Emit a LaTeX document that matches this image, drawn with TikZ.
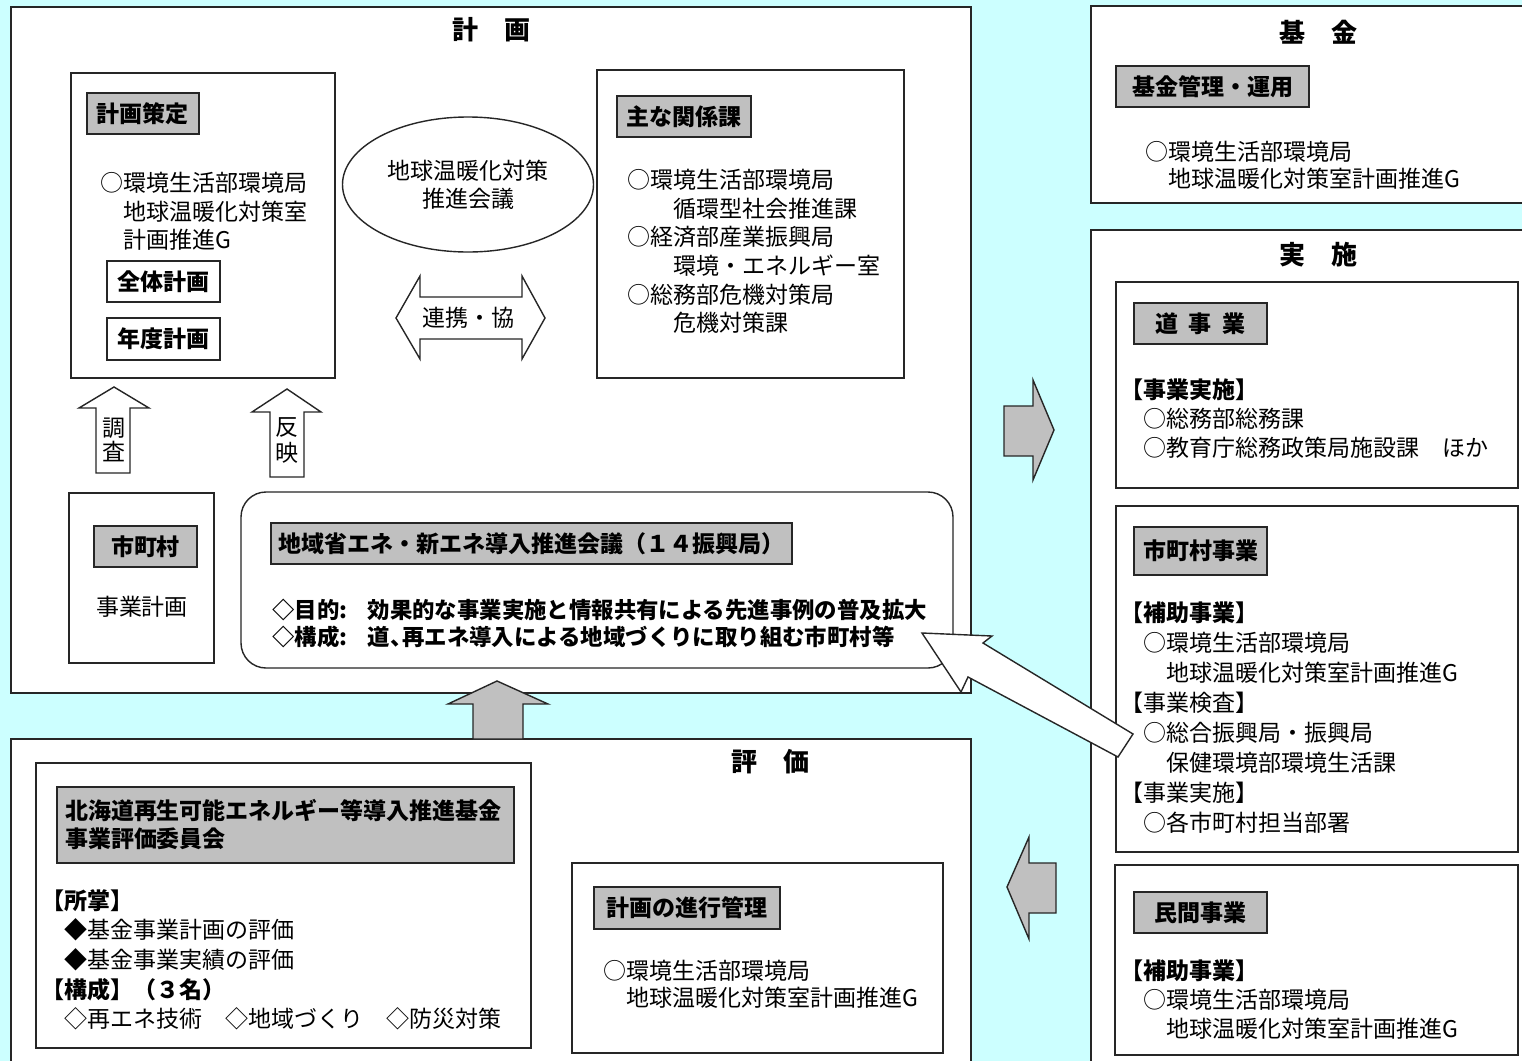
\documentclass[tikz,border=0pt]{standalone}
\usepackage{fontspec}
\setmainfont{Noto Sans CJK JP}
\usepackage{tikz}
\usepackage{xcolor}
\usetikzlibrary{shapes.geometric}
\definecolor{bgcyan}{RGB}{204,255,255}
\definecolor{labelgray}{RGB}{192,192,192}

\begin{document}
\begin{tikzpicture}[x=0.5pt, y=-0.5pt,
        frame/.style={draw=black!85, fill=white, line width=0.7pt, inner sep=0pt},
        graybox/.style={draw=black!85, fill=labelgray, line width=0.9pt, inner sep=0pt, minimum height=20.5pt, font=\fontsize{11.5}{14}\selectfont\bfseries},
        whitebox/.style={graybox, fill=white},
        title/.style={font=\fontsize{13}{15}\selectfont\bfseries},
        body/.style={align=left, inner sep=0pt, anchor=north west, font=\fontsize{11.5}{14.5}\selectfont},
        blockarrow/.style={draw=black!85, line width=0.7pt, line join=miter, fill=labelgray}
        ]
            \fill[bgcyan] (0,0) rectangle (1522,1061);
            \useasboundingbox (0,0) rectangle (1522,1061);

            % big frames
            \node[frame, minimum width=480pt, minimum height=343pt] (plan) at (491,350) {};
            \node[title] (planttl) at (491,30) {計　画};
            \node[frame, minimum width=227pt, minimum height=98.5pt] (fund) at (1318,104.5) {};
            \node[title] (fundttl) at (1318,32) {基　金};
            \node[frame, minimum width=227pt, minimum height=425pt] (impl) at (1318,655) {};
            \node[title] (implttl) at (1318,255) {実　施};
            \node[frame, minimum width=480pt, minimum height=170.5pt] (eval) at (491,909.5) {};
            \node[title] (evalttl) at (770,762) {評　価};

            % plan
            \node[frame, minimum width=132pt, minimum height=152.5pt] (draft) at (203,225.5) {};
            \node[graybox, minimum width=56pt] (draftlbl) at (143,113.5) {計画策定};
            \node[body, font=\fontsize{11.5}{14.25}\selectfont] (drafttxt) at (100,172) {○環境生活部環境局\\　地球温暖化対策室\\　計画推進G};
            \node[whitebox, minimum width=56.5pt] (whole) at (163.5,281.5) {全体計画};
            \node[whitebox, minimum width=56.5pt, minimum height=21pt] (annual) at (163.5,339) {年度計画};

            \node[ellipse, draw=black!85, fill=white, line width=0.7pt, minimum width=125.5pt, minimum height=67.5pt, align=center, font=\fontsize{11.5}{14}\selectfont] (meeting) at (468,184.5) {地球温暖化対策\\推進会議};
            \draw[blockarrow, fill=white] (396,318) -- (420,276) -- (420,297) -- (522,297) -- (522,276) -- (545,318) -- (522,359) -- (522,339) -- (420,339) -- (420,359) -- cycle;
            \node[font=\fontsize{11.5}{14}\selectfont] (link) at (468,318) {連携・協};

            \node[frame, minimum width=153.5pt, minimum height=154pt] (rel) at (750.5,224) {};
            \node[graybox, minimum width=67pt] (rellbl) at (684,116.5) {主な関係課};
            \node[body, font=\fontsize{11.5}{14.3}\selectfont] (reltxt) at (627,169) {○環境生活部環境局\\　　循環型社会推進課\\○経済部産業振興局\\　　環境・エネルギー室\\○総務部危機対策局\\　　危機対策課};

            \draw[blockarrow, fill=white] (114,387) -- (149,408) -- (130,408) -- (130,473) -- (96,473) -- (96,408) -- (79,408) -- cycle;
            \node[align=center, inner sep=0pt, font=\fontsize{11.5}{12}\selectfont] (survey) at (114,440) {調\\査};
            \draw[blockarrow, fill=white] (287,389) -- (321,412) -- (304,412) -- (304,477) -- (270,477) -- (270,412) -- (252,412) -- cycle;
            \node[align=center, inner sep=0pt, font=\fontsize{11.5}{13}\selectfont] (reflect) at (287,441) {反\\映};

            \node[frame, minimum width=72.5pt, minimum height=85pt] (muni) at (141.5,578) {};
            \node[graybox, minimum width=51.5pt] (munilbl) at (145.5,546.5) {市町村};
            \node[font=\fontsize{11.5}{14}\selectfont] (munitxt) at (142,607) {事業計画};

            \node[frame, rounded corners=12.5pt, minimum width=356pt, minimum height=88pt] (council) at (597,580) {};
            \node[graybox, minimum width=260.5pt] (councillbl) at (531.5,543.5) {地域省エネ・新エネ導入推進会議（１４振興局）};
            \node[body, font=\fontsize{11.2}{13.5}\selectfont\bfseries] (counciltxt) at (272,599) {◇目的:\hspace{0.9em}効果的な事業実施と情報共有による先進事例の普及拡大\\◇構成:\hspace{0.9em}道、\hspace{-0.45em}再エネ導入による地域づくりに取り組む市町村等};

            % arrows between frames
            \draw[blockarrow] (497,681) -- (548,704) -- (523,704) -- (523,739) -- (473,739) -- (473,704) -- (448,704) -- cycle;
            \draw[blockarrow] (1004,406) -- (1033,406) -- (1033,380) -- (1054,430) -- (1033,480) -- (1033,456) -- (1004,456) -- cycle;
            \draw[blockarrow] (1007,887) -- (1029,837) -- (1029,863) -- (1056,863) -- (1056,913) -- (1029,913) -- (1029,939) -- cycle;

            % fund
            \node[graybox, minimum width=96.5pt] (fundlbl) at (1212.5,86.5) {基金管理・運用};
            \node[body, font=\fontsize{11.5}{13.5}\selectfont] (fundtxt) at (1145,141) {○環境生活部環境局\\　地球温暖化対策室計画推進G};

            % implementation
            \node[frame, minimum width=201pt, minimum height=103pt] (road) at (1317,385) {};
            \node[graybox, minimum width=66.5pt] (roadlbl) at (1200.5,323.5) {道\hspace{0.45em}事\hspace{0.45em}業};
            \node[body] (roadtxt) at (1120,378) {\textbf{【事業実施】}\\　○総務部総務課\\　○教育庁総務政策局施設課　ほか};

            \node[frame, minimum width=201pt, minimum height=173pt] (city) at (1317,679) {};
            \node[graybox, minimum width=66.5pt, minimum height=24pt] (citylbl) at (1200.5,551) {市町村事業};
            \node[body, font=\fontsize{11.5}{15}\selectfont] (citytxt) at (1120,601) {\textbf{【補助事業】}\\　○環境生活部環境局\\　　地球温暖化対策室計画推進G\\【事業検査】\\　○総合振興局・振興局\\　　保健環境部環境生活課\\【事業実施】\\　○各市町村担当部署};

            \node[frame, minimum width=201.5pt, minimum height=95pt] (priv) at (1316.5,960) {};
            \node[graybox, minimum width=66.5pt] (privlbl) at (1200.5,912.5) {民間事業};
            \node[body] (privtxt) at (1120,959) {\textbf{【補助事業】}\\　○環境生活部環境局\\　　地球温暖化対策室計画推進G};

            % evaluation
            \node[frame, minimum width=247.5pt, minimum height=142.5pt] (cmte) at (283.5,905.5) {};
            \node[graybox, text width=220.5pt, inner xsep=4pt, minimum height=38pt, align=left] (cmtelbl) at (285.5,825) {北海道再生可能エネルギー等導入推進基金\\事業評価委員会};
            \node[body, font=\fontsize{11.5}{14.8}\selectfont] (cmtetxt) at (41,889) {\textbf{【所掌】}\\　◆基金事業計画の評価\\　◆基金事業実績の評価\\\textbf{【構成】（３名）}\\　◇再エネ技術　◇地域づくり　◇防災対策};

            \node[frame, minimum width=185.5pt, minimum height=95pt] (prog) at (757.5,958) {};
            \node[graybox, minimum width=93pt, minimum height=21pt] (proglbl) at (687,908) {計画の進行管理};
            \node[body, font=\fontsize{11.5}{13.5}\selectfont] (progtxt) at (603,960) {○環境生活部環境局\\　地球温暖化対策室計画推進G};

            \draw[blockarrow, fill=white] (922,633) -- (992,636) -- (983,643) -- (1133,734) -- (1118,757) -- (968,677) -- (961,692) -- cycle;

        \end{tikzpicture}
\end{document}
